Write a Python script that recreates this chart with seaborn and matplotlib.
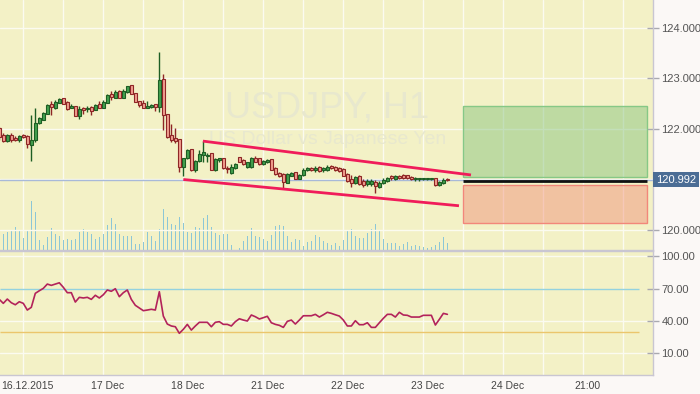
import numpy as np
import pandas as pd
import matplotlib
matplotlib.use("Agg")
import matplotlib.pyplot as plt
from matplotlib.patches import Rectangle
from matplotlib.transforms import blended_transform_factory
import seaborn as sns

# ---------------- data (hourly bars, index = bar number) ----------------
opens = [122.01, 121.89, 121.76, 121.89, 121.83, 121.78, 121.88, 121.86, 121.68, 121.78,
         122.11, 122.18, 122.30, 122.49, 122.42, 122.52, 122.61, 122.53, 122.41, 122.45,
         122.26, 122.42, 122.40, 122.44, 122.38, 122.50, 122.42, 122.51, 122.69, 122.62,
         122.76, 122.62, 122.73, 122.87, 122.71, 122.55, 122.51, 122.42, 122.44, 122.49,
         122.44, 122.99, 122.30, 121.89, 121.83, 121.80, 121.25, 121.42, 121.60, 121.19,
         121.37, 121.49, 121.46, 121.52, 121.19, 121.38, 121.42, 121.23, 121.12, 121.22,
         121.44, 121.39, 121.25, 121.25, 121.43, 121.42, 121.30, 121.35, 121.40, 121.22,
         121.12, 121.10, 120.94, 121.07, 121.14, 121.01, 121.09, 121.18, 121.23, 121.19,
         121.25, 121.19, 121.19, 121.27, 121.25, 121.22, 121.20, 121.11, 121.00, 120.94,
         121.07, 120.98, 120.91, 120.91, 120.96, 120.86, 120.93, 120.97, 121.07, 121.00,
         121.07, 121.09, 121.08, 121.04, 121.00, 121.00, 121.00, 121.00, 121.00, 121.02,
         120.89, 120.94, 121.01]
closes = [121.85, 121.76, 121.88, 121.78, 121.78, 121.86, 121.84, 121.71, 121.78, 122.11,
          122.21, 122.32, 122.48, 122.44, 122.54, 122.59, 122.50, 122.40, 122.45, 122.26,
          122.40, 122.38, 122.42, 122.36, 122.48, 122.42, 122.54, 122.67, 122.63, 122.74,
          122.61, 122.75, 122.85, 122.69, 122.53, 122.48, 122.42, 122.46, 122.48, 122.44,
          122.97, 122.28, 121.85, 121.78, 121.76, 121.25, 121.42, 121.58, 121.19, 121.37,
          121.50, 121.55, 121.49, 121.19, 121.40, 121.42, 121.22, 121.21, 121.25, 121.30,
          121.35, 121.30, 121.34, 121.43, 121.35, 121.30, 121.37, 121.38, 121.19, 121.10,
          121.06, 120.96, 121.10, 121.12, 121.01, 121.09, 121.19, 121.23, 121.19, 121.23,
          121.17, 121.23, 121.25, 121.22, 121.19, 121.17, 121.07, 120.98, 120.94, 121.04,
          120.91, 120.89, 120.98, 120.97, 120.87, 120.94, 120.99, 121.02, 121.02, 121.07,
          121.02, 121.02, 121.02, 121.00, 121.02, 121.02, 121.02, 121.02, 121.02, 120.89,
          120.96, 120.99, 120.992]
highs = [122.04, 121.92, 121.91, 121.92, 121.86, 121.88, 121.90, 121.88, 122.28, 122.42,
         122.24, 122.33, 122.49, 122.55, 122.58, 122.62, 122.62, 122.55, 122.50, 122.45,
         122.46, 122.44, 122.46, 122.45, 122.50, 122.55, 122.57, 122.70, 122.75, 122.77,
         122.77, 122.79, 122.86, 122.87, 122.71, 122.55, 122.57, 122.55, 122.50, 122.50,
         123.53, 123.08, 122.30, 122.09, 122.01, 121.80, 121.42, 121.60, 121.60, 121.39,
         121.58, 121.76, 121.52, 121.52, 121.42, 121.43, 121.43, 121.27, 121.30, 121.32,
         121.45, 121.41, 121.35, 121.45, 121.47, 121.43, 121.39, 121.40, 121.40, 121.25,
         121.15, 121.12, 121.12, 121.15, 121.15, 121.10, 121.22, 121.25, 121.25, 121.26,
         121.27, 121.25, 121.29, 121.29, 121.27, 121.25, 121.22, 121.12, 121.09, 121.07,
         121.09, 121.00, 121.00, 121.00, 120.99, 120.97, 121.02, 121.04, 121.09, 121.09,
         121.09, 121.10, 121.09, 121.06, 121.04, 121.03, 121.03, 121.03, 121.03, 121.03,
         120.98, 121.02, 121.02]
lows = [121.78, 121.74, 121.75, 121.75, 121.76, 121.75, 121.83, 121.63, 121.37, 121.75,
        122.10, 122.18, 122.30, 122.28, 122.40, 122.51, 122.50, 122.38, 122.41, 122.26,
        122.20, 122.29, 122.34, 122.28, 122.38, 122.42, 122.41, 122.51, 122.58, 122.61,
        122.61, 122.61, 122.71, 122.69, 122.53, 122.44, 122.41, 122.41, 122.41, 122.36,
        122.34, 121.98, 121.82, 121.75, 121.72, 121.14, 121.06, 121.40, 121.17, 121.15,
        121.35, 121.35, 121.35, 121.19, 121.17, 121.35, 121.21, 121.12, 121.10, 121.21,
        121.35, 121.29, 121.23, 121.23, 121.34, 121.29, 121.29, 121.33, 121.19, 121.09,
        121.04, 120.84, 120.93, 121.06, 121.00, 121.00, 121.07, 121.17, 121.17, 121.15,
        121.14, 121.15, 121.17, 121.21, 121.17, 121.15, 121.06, 120.96, 120.85, 120.92,
        120.89, 120.85, 120.88, 120.88, 120.73, 120.83, 120.91, 120.95, 120.99, 120.99,
        121.00, 121.00, 121.00, 120.99, 120.98, 120.98, 120.99, 120.99, 120.99, 120.87,
        120.87, 120.92, 120.97]
volumes = [1500, 1600, 1800, 1930, 2330, 1930, 1200, 1930, 4900, 3800, 1000,
           530, 1300, 2200, 1600, 1400, 1000, 1100, 1000, 1100, 1800,
           2100, 1800, 1600, 1100, 1300, 1600, 2500, 3200, 2600, 1600,
           1400, 1400, 1400, 600, 600, 800, 1800, 1400, 900, 2100,
           4100, 3300, 2600, 2500, 3300, 2700, 1800, 1700, 2300, 2200,
           3200, 3500, 2300, 1700, 1500, 1600, 1600, 500, 0, 200,
           900, 1400, 2200, 1400, 1300, 1100, 900, 1500, 2400, 2500,
           2400, 1400, 800, 1100, 1000, 400, 800, 900, 1500, 1300,
           900, 700, 500, 700, 400, 1000, 1900, 2100, 1400, 1200,
           1200, 1700, 2100, 2600, 1900, 1100, 700, 700, 700, 400,
           600, 800, 400, 500, 400, 300, 200, 300, 500, 800,
           1300, 700]
rsi = [60.1, 56.4, 60.4, 57.0, 55.1, 57.9, 56.4, 50.2, 52.7, 65.7,
       68.1, 70.3, 74.3, 73.1, 74.3, 75.5, 71.3, 66.3, 66.3, 57.6,
       62.0, 61.4, 62.0, 60.1, 63.9, 61.4, 64.4, 68.8, 67.6, 70.0,
       62.6, 66.3, 68.8, 60.1, 54.6, 52.1, 49.6, 50.2, 50.9, 50.2,
       67.2, 44.6, 37.2, 35.4, 34.7, 28.6, 32.3, 36.9, 31.6, 35.4,
       38.8, 38.8, 38.8, 34.7, 38.8, 39.4, 36.9, 36.9, 35.4, 39.4,
       42.1, 40.9, 40.0, 45.6, 44.0, 41.9, 43.1, 44.4, 38.4, 36.9,
       36.0, 34.1, 39.7, 40.9, 37.2, 40.9, 44.9, 44.9, 44.9, 46.2,
       43.7, 45.8, 48.1, 47.1, 45.8, 44.6, 40.9, 35.4, 35.4, 40.3,
       36.6, 36.6, 38.4, 34.1, 34.1, 38.4, 42.5, 46.2, 46.2, 43.7,
       48.1, 45.6, 45.3, 43.7, 43.7, 43.7, 45.3, 45.3, 45.3, 36.3,
       41.6, 47.1, 46.2]

x_tick_bars = [6, 26, 46, 66, 86, 106, 126, 146]
x_tick_labels = ["16.12.2015", "17 Dec", "18 Dec", "21 Dec", "22 Dec", "23 Dec", "24 Dec", "21:00"]
price_ticks = [120, 122, 123, 124]
price_grid = [120, 121, 122, 123, 124]
rsi_ticks = [100, 70, 40, 10]
rsi_levels = [70, 30]
last_price = 120.992

# channel drawing (bar index, price)
upper_x = [50.9, 117.9]
upper_y = [121.76, 121.09]
lower_x = [46.0, 114.9]
lower_y = [121.00, 120.48]
# position tool
pos_x = [116.0, 162.0]
tp_zone = [121.04, 122.46]
sl_zone = [120.13, 120.90]
entry_price = 120.98

# ---------------- style ----------------
sns.set_theme(style="white")
plt.rcParams["font.family"] = ["Liberation Sans", "DejaVu Sans"]

BG = "#f3f1c6"
GRID = "#fbfbf0"
FIGBG = "#fbf8f6"
AXCOL = "#c9c6d2"
TXT = "#555555"

df = pd.DataFrame({"bar": np.arange(len(opens)), "open": opens, "high": highs,
                   "low": lows, "close": closes, "volume": volumes, "rsi": rsi})

fig = plt.figure(figsize=(7.0, 3.94), dpi=100, facecolor=FIGBG)
W, H = 700, 394
main_rect = [0, 1 - 250 / H, 653 / W, 250 / H]
rsi_rect = [0, 1 - 375 / H, 653 / W, 124 / H]

ax_v = fig.add_axes(main_rect)
ax = fig.add_axes(main_rect, sharex=ax_v)
ax_r = fig.add_axes(rsi_rect, sharex=ax_v)

xlim = (0.175, 163.4)
ax_v.set_xlim(*xlim)
ax.set_ylim(119.604, 124.554)
ax_v.set_ylim(0, 25000)
ax_r.set_ylim(-10.1, 105.0)

ax_v.set_facecolor(BG)
ax.patch.set_visible(False)
ax_r.set_facecolor(BG)

# vertical grid
for a in (ax_v, ax_r):
    for g in range(6, 164, 10):
        a.axvline(g, color=GRID, lw=1, zorder=0)

# volume
ax_v.bar(df["bar"], df["volume"], width=0.3, color="#8cc6d6", zorder=2, linewidth=0)
ax_v.set_yticks([])
ax_v.tick_params(axis="x", length=0, labelbottom=False)
for s in ax_v.spines.values():
    s.set_visible(False)

# price grid
for p in price_grid:
    ax.axhline(p, color=GRID, lw=1, zorder=0.5)

# watermark
ax.text(327 / 653, 1 - 118 / 250, "USDJPY, H1", transform=ax.transAxes, ha="center",
        va="baseline", fontsize=26, color="#e8e8ce", zorder=0.6)
ax.text(328 / 653, 1 - 144 / 250, "US Dollar vs Japanese Yen", transform=ax.transAxes, ha="center",
        va="baseline", fontsize=14, color="#e8e8ce", zorder=0.6)

# current price line
ax.axhline(last_price, color="#a8b9d8", lw=1, zorder=1)

# candles
up = df["close"] >= df["open"]
for mask, face, edge in ((up, "#43a04e", "#1d5e24"), (~up, "#f2a090", "#8e2626")):
    d = df[mask]
    ax.vlines(d["bar"], d["low"], d["high"], color=edge, lw=1, zorder=3)
    bottoms = np.minimum(d["open"], d["close"])
    heights = np.maximum(np.abs(d["close"] - d["open"]), 0.012)
    ax.bar(d["bar"], heights, bottom=bottoms, width=0.72, color=face,
           edgecolor=edge, linewidth=0.8, zorder=4)

# position tool
ax.add_patch(Rectangle((pos_x[0], tp_zone[0]), pos_x[1] - pos_x[0], tp_zone[1] - tp_zone[0],
                       facecolor="#7fbf78", alpha=0.45, edgecolor="none", zorder=2))
ax.add_patch(Rectangle((pos_x[0], tp_zone[0]), pos_x[1] - pos_x[0], tp_zone[1] - tp_zone[0],
                       facecolor="none", edgecolor="#86c886", lw=1, zorder=2))
ax.add_patch(Rectangle((pos_x[0], sl_zone[0]), pos_x[1] - pos_x[0], sl_zone[1] - sl_zone[0],
                       facecolor="#f08a74", alpha=0.45, edgecolor="none", zorder=2))
ax.add_patch(Rectangle((pos_x[0], sl_zone[0]), pos_x[1] - pos_x[0], sl_zone[1] - sl_zone[0],
                       facecolor="none", edgecolor="#f2877a", lw=1, zorder=2))
ax.hlines(entry_price, pos_x[0], pos_x[1], color="#111111", lw=2, zorder=5)

# channel lines
ax.plot(upper_x, upper_y, color="#f01c5a", lw=2, zorder=6, solid_capstyle="butt")
ax.plot(lower_x, lower_y, color="#f01c5a", lw=2, zorder=6, solid_capstyle="butt")

# main axis styling
ax.yaxis.tick_right()
ax.set_yticks(price_ticks)
ax.set_yticklabels([f"{p:.3f}" for p in price_ticks])
ax.tick_params(axis="y", direction="inout", length=9, width=1, color="#a9a9b0",
               labelcolor=TXT, labelsize=8, pad=1.5)
ax.tick_params(axis="x", length=0, labelbottom=False)
for k, s in ax.spines.items():
    s.set_visible(k in ("right", "bottom"))
    s.set_color(AXCOL)
    s.set_linewidth(1)

tr = blended_transform_factory(ax.transAxes, ax.transData)
ax.text(1.0045, last_price, f"{last_price:.3f}", transform=tr, ha="left", va="center",
        fontsize=8, color="white", zorder=10, clip_on=False,
        bbox=dict(boxstyle="square,pad=0.22", fc="#4b6d95", ec="none"))

# RSI panel
for v in (100, 40, 10):
    ax_r.axhline(v, color=GRID, lw=1, zorder=0.5)
ax_r.hlines(rsi_levels[0], xlim[0], 159.9, color="#93d2df", lw=1, zorder=1)
ax_r.hlines(rsi_levels[1], xlim[0], 159.9, color="#ebc66c", lw=1, zorder=1)
sns.lineplot(data=df, x="bar", y="rsi", ax=ax_r, color="#b3235a", lw=1.2, zorder=3)
ax_r.set_xlabel("")
ax_r.set_ylabel("")
ax_r.yaxis.tick_right()
ax_r.set_yticks(rsi_ticks)
ax_r.set_yticklabels([f"{v:.2f}" for v in rsi_ticks])
ax_r.tick_params(axis="y", direction="inout", length=9, width=1, color="#a9a9b0",
                 labelcolor=TXT, labelsize=8, pad=1.5)
ax_r.set_xticks([b + 1 for b in x_tick_bars])
ax_r.set_xticklabels(x_tick_labels)
ax_r.tick_params(axis="x", length=0, labelcolor="#444444", labelsize=7.5, pad=4)
for k, s in ax_r.spines.items():
    s.set_visible(k in ("right", "bottom", "top"))
    s.set_color(AXCOL)
    s.set_linewidth(1)
ax_r.set_xlim(*xlim)

fig.savefig("out.png", dpi=100, facecolor=FIGBG)
